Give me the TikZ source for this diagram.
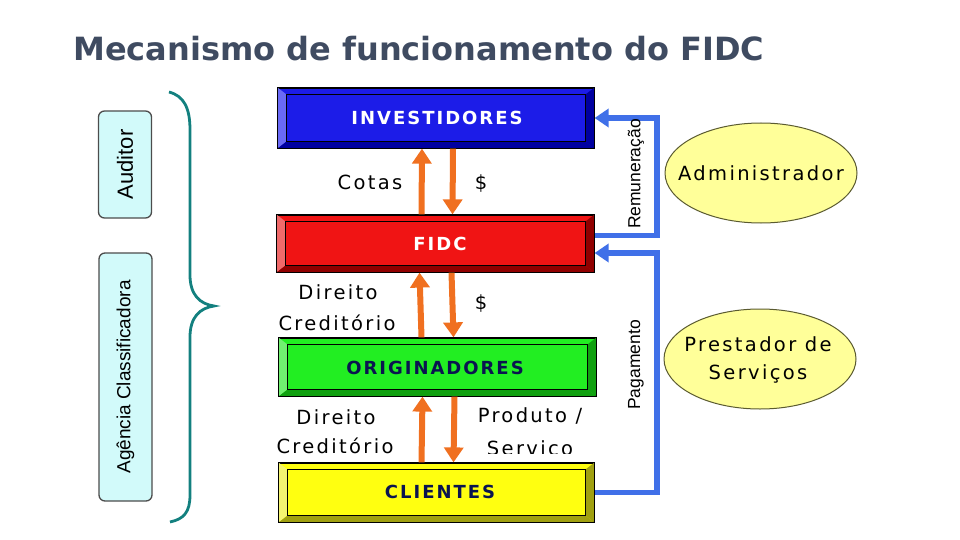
\documentclass[tikz,border=0pt]{standalone}
\usepackage{fontspec}
\setmainfont{DejaVu Sans}
\newfontfamily\lblf[LetterSpace=12]{DejaVu Sans}
\newfontfamily\boxf[LetterSpace=11]{DejaVu Sans}
\newfontfamily\titf{DejaVu Sans}
\newfontfamily\arialf{Liberation Sans}
\usetikzlibrary{arrows.meta,shapes.geometric,calc}
\definecolor{titc}{HTML}{3F4B61}
\definecolor{orng}{HTML}{F07020}
\definecolor{blu}{HTML}{4070E8}
\definecolor{teal2}{HTML}{13807F}
\definecolor{ellf}{HTML}{FFFF99}
\definecolor{elld}{HTML}{5A5A30}
\definecolor{cyf}{HTML}{D2FAFA}
\definecolor{bmain}{HTML}{1C1CE8}\definecolor{blight}{HTML}{6A6AF5}\definecolor{bdark}{HTML}{0000A0}
\definecolor{rmain}{HTML}{F01414}\definecolor{rlight}{HTML}{F06A6A}\definecolor{rdark}{HTML}{900000}
\definecolor{gmain}{HTML}{22EE22}\definecolor{glight}{HTML}{70F070}\definecolor{gdark}{HTML}{10A010}
\definecolor{ymain}{HTML}{FFFF10}\definecolor{ylight}{HTML}{F4F470}\definecolor{ydark}{HTML}{A0A010}
\definecolor{navy}{HTML}{0A1450}
\newcommand\bevbox[8]{%
  \node[draw=black, line width=1.2pt, fill=#6, minimum width=#4pt, minimum height=#5pt, inner sep=0pt] (#1) at (#2,#3) {};
  \fill[#7] (#1.north west) -- ([shift={(9pt,-7pt)}]#1.north west) -- ([shift={(9pt,7pt)}]#1.south west) -- (#1.south west) -- cycle;
  \fill[#8] (#1.north east) -- ([shift={(-9pt,-7pt)}]#1.north east) -- ([shift={(-9pt,7pt)}]#1.south east) -- (#1.south east) -- cycle;
  \fill[#8] (#1.south west) -- ([shift={(9pt,7pt)}]#1.south west) -- ([shift={(-9pt,7pt)}]#1.south east) -- (#1.south east) -- cycle;
  \draw[black, line width=1.2pt] (#1.north west) rectangle (#1.south east);
  \draw[black, line width=0.8pt, fill=#6] ([shift={(9pt,-7pt)}]#1.north west) rectangle ([shift={(-9pt,7pt)}]#1.south east);
}
\tikzset{
  lbl/.style={font=\lblf\fontsize{19.5}{22}\selectfont, inner sep=0pt},
  boxtxt/.style={font=\boxf\bfseries\fontsize{18}{21}\selectfont, inner sep=0pt},
  oarrow/.style={orng, line width=6pt, -{Triangle[width=19pt,length=15pt]}},
  barrow/.style={blu, line width=5.5pt, -{Triangle[width=18pt,length=14pt]}},
  ell/.style={ellipse, draw=elld, line width=1pt, fill=ellf, minimum width=192pt, minimum height=100pt, inner sep=0pt},
  sidebox/.style={draw=black!70, line width=1.3pt, fill=cyf, rounded corners=6pt, rotate=90, minimum height=53pt},
  vlab/.style={rotate=90, font=\arialf\fontsize{17.5}{20}\selectfont, inner sep=0pt}
}
\begin{document}
\begin{tikzpicture}[x=1pt,y=-1pt]
\useasboundingbox (0,0) rectangle (960,540);
% title
\node[anchor=base west, inner sep=0pt, text=titc, font=\titf\bfseries\fontsize{32}{38}\selectfont] (title) at (73,61) {Mecanismo de funcionamento do FIDC};
% boxes
\bevbox{inv}{436}{118}{316}{60}{bmain}{blight}{bdark}
\node[boxtxt, text=white] (invt) at (437,118) {INVESTIDORES};
\bevbox{fidc}{435.5}{243.5}{317}{57}{rmain}{rlight}{rdark}
\node[boxtxt, text=white] (fidct) at (440,244) {FIDC};
\bevbox{orig}{437.5}{367}{317}{58}{gmain}{glight}{gdark}
\node[boxtxt, text=navy] (origt) at (435,368) {ORIGINADORES};
\bevbox{cli}{436.5}{492.5}{315}{59}{ymain}{ylight}{ydark}
\node[boxtxt, text=navy] (clit) at (440,492) {CLIENTES};
% orange arrows
\draw[oarrow] ([xshift=-14pt]fidc.north) -- ([xshift=-14pt]inv.south);
\draw[oarrow] ([xshift=17pt]inv.south) -- ([xshift=17pt]fidc.north);
\draw[oarrow] ([xshift=-16pt]orig.north) -- ([xshift=-16pt]fidc.south);
\draw[oarrow] ([xshift=16pt]fidc.south) -- ([xshift=16pt]orig.north);
\draw[oarrow] ([xshift=-15pt]cli.north) -- ([xshift=-15pt]orig.south);
\draw[oarrow] ([xshift=17pt]orig.south) -- ([xshift=17pt]cli.north);
% labels
\node[lbl] (cotas) at (370,182) {Cotas};
\node[lbl] (d1) at (481,184) {\$};
\node[lbl] (dir1) at (338,292) {Direito};
\node[lbl] (cre1) at (337,323) {Creditório};
\node[lbl] (d2) at (481,304) {\$};
\node[lbl] (dir2) at (336,417) {Direito};
\node[lbl] (cre2) at (335,446) {Creditório};
\node[lbl] (prod) at (530,416) {Produto /};
\begin{scope}
\clip (460,425) rectangle (610,453);
\node[lbl] (serv) at (530,450) {Serviço};
\end{scope}
% ellipses
\node[ell] (adm) at (761,173) {};
\node[lbl] (admt) at (761,173) {Administrador};
\node[ell] (prest) at (760,359) {};
\node[lbl] (prt1) at (758,344) {Prestador de};
\node[lbl] (prt2) at (758,374) {Serviços};
% blue connectors
\coordinate (rem) at (657,118);
\coordinate (pag) at (657,253);
\draw[barrow, line join=miter] ([yshift=8pt]fidc.east) -| (rem) -- (inv.east);
\draw[barrow, line join=miter] (cli.east) -| (pag) -- ([yshift=-9.5pt]fidc.east);
\node[vlab] (remt) at (636,174) {Remuneração};
\node[vlab] (pagt) at (636,365) {Pagamento};
% left side
\node[sidebox, minimum width=107pt, font=\arialf\fontsize{22}{26}\selectfont] (aud) at (125,164.5) {Auditor};
\node[sidebox, minimum width=248pt, font=\arialf\fontsize{19}{22}\selectfont] (agc) at (125.5,377) {Agência Classificadora};
\draw[teal2, line width=2.8pt] (169,92) .. controls (184,96) and (190,108) .. (190,130) -- (190,275)
  .. controls (190,295) and (200,304) .. (214,306) .. controls (200,308) and (190,317) .. (190,337)
  -- (190,495) .. controls (190,512) and (184,519) .. (170,522);
\end{tikzpicture}
\end{document}
